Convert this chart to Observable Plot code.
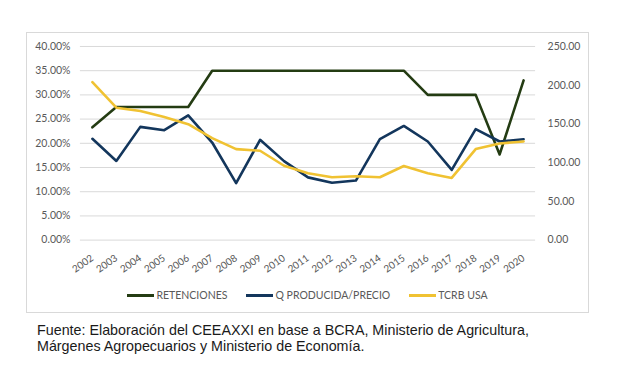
<!DOCTYPE html>
<html>
<head>
<meta charset="utf-8">
<script src="https://cdn.jsdelivr.net/npm/d3@7"></script>
<script src="https://cdn.jsdelivr.net/npm/@observablehq/plot@0.6"></script>
<style>
  html, body { margin: 0; padding: 0; background: #fff; }
  #wrap { position: relative; width: 632px; height: 389px; overflow: hidden; }
  #frame { position: absolute; left: 26px; top: 32px; width: 563px; height: 281px; box-sizing: border-box; border: 1px solid #d9d9d9; }
  #chart { position: absolute; left: -1px; top: -1px; }
  #legend { position: absolute; left: 0; right: 0; top: 256px; display: flex; justify-content: center; gap: 19px; font-family: Lato, "Open Sans", sans-serif; font-size: 10.5px; color: #595959; }
  #legend .item { display: flex; align-items: center; }
  #legend .sw { width: 27px; height: 3px; margin-right: 2px; }
  #caption { position: absolute; left: 37px; top: 322px; font-family: "Liberation Sans", Arial, sans-serif; font-size: 14.3px; line-height: 16px; color: #1a1a1a; white-space: nowrap; }
</style>
</head>
<body>
<div id="wrap">
  <div id="frame">
    <div id="chart"></div>
    <div id="legend"></div>
  </div>
  <div id="caption">Fuente: Elaboración del CEEAXXI en base a BCRA, Ministerio de Agricultura,<br>Márgenes Agropecuarios y Ministerio de Economía.</div>
</div>
<script>
const years = ["2002","2003","2004","2005","2006","2007","2008","2009","2010","2011","2012","2013","2014","2015","2016","2017","2018","2019","2020"];
// left axis (%)
const retenciones = [23.3, 27.5, 27.5, 27.5, 27.5, 35, 35, 35, 35, 35, 35, 35, 35, 35, 30, 30, 30, 17.7, 33];
// right axis
const qProducidaPrecio = [130.8, 102.2, 146.2, 141.9, 161.1, 126, 73.5, 129.5, 102, 81, 74, 76.9, 130.3, 147.4, 127.3, 90.6, 143.2, 127.3, 130.3];
const tcrbUsa = [204, 171, 166.7, 159, 149.6, 131.6, 117.5, 115.4, 96, 86.3, 81.2, 82.5, 81.2, 95.7, 86.3, 80.3, 117.5, 124.8, 127.3];
const leftTicks = [0, 5, 10, 15, 20, 25, 30, 35, 40];
const rightTicks = [0, 50, 100, 150, 200, 250];
const seriesNames = ["RETENCIONES", "Q PRODUCIDA/PRECIO", "TCRB USA"];
const seriesColors = ["#243c13", "#13365c", "#f0c232"];

const leftMax = 40, rightMax = 250;
const toLeft = v => v * leftMax / rightMax;

const rows = [];
years.forEach((y, i) => {
  rows.push({year: y, series: seriesNames[0], v: retenciones[i]});
  rows.push({year: y, series: seriesNames[1], v: toLeft(qProducidaPrecio[i])});
  rows.push({year: y, series: seriesNames[2], v: toLeft(tcrbUsa[i])});
});

const font = "Lato, 'Open Sans', sans-serif";
const chart = Plot.plot({
  width: 563,
  height: 250,
  marginLeft: 54,
  marginRight: 53,
  marginTop: 14,
  marginBottom: 42,
  style: {fontFamily: font, fontSize: "10.5px", color: "#595959", background: "transparent"},
  x: {type: "point", domain: years, padding: 0.5, label: null},
  y: {domain: [0, leftMax], label: null},
  color: {domain: seriesNames, range: seriesColors},
  marks: [
    Plot.ruleY(leftTicks, {stroke: "#d9d9d9", strokeWidth: 1}),
    Plot.axisY(leftTicks, {anchor: "left", tickSize: 0, tickPadding: 10, tickFormat: d => d.toFixed(2) + "%", label: null, fill: "#595959"}),
    Plot.axisY(rightTicks.map(toLeft), {anchor: "right", tickSize: 0, tickPadding: 12, tickFormat: d => (d * rightMax / leftMax).toFixed(2), label: null, fill: "#595959", textAnchor: "start"}),
    Plot.axisX(years, {tickSize: 0, tickPadding: 17, tickRotate: -35, fontSize: 10, label: null, fill: "#595959"}),
    Plot.line(rows.filter(r => r.series === seriesNames[0]), {x: "year", y: "v", stroke: "series", strokeWidth: 2.6}),
    Plot.line(rows.filter(r => r.series === seriesNames[1]), {x: "year", y: "v", stroke: "series", strokeWidth: 2.6}),
    Plot.line(rows.filter(r => r.series === seriesNames[2]), {x: "year", y: "v", stroke: "series", strokeWidth: 2.6})
  ]
});
document.getElementById("chart").appendChild(chart);

const legend = document.getElementById("legend");
seriesNames.forEach((n, i) => {
  const item = document.createElement("div");
  item.className = "item";
  const sw = document.createElement("span");
  sw.className = "sw";
  sw.style.background = seriesColors[i];
  const t = document.createElement("span");
  t.textContent = n;
  item.appendChild(sw);
  item.appendChild(t);
  legend.appendChild(item);
});
</script>
</body>
</html>
